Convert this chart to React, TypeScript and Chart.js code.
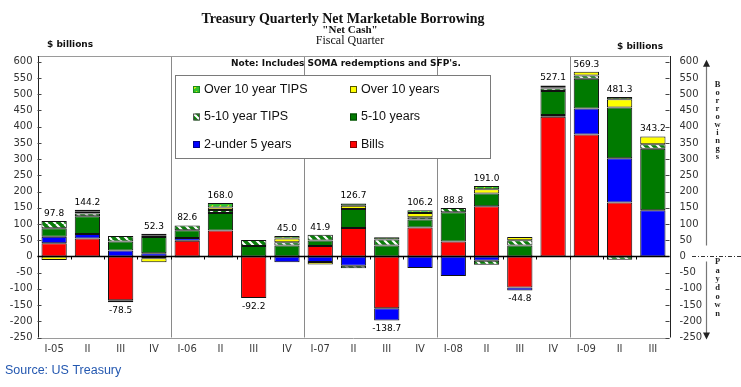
import React, { useEffect, useRef } from 'react';
import { Chart, registerables } from 'chart.js';

Chart.register(...registerables);

const categories = ['I-05', 'II', 'III', 'IV', 'I-06', 'II', 'III', 'IV', 'I-07', 'II', 'III', 'IV', 'I-08', 'II', 'III', 'IV', 'I-09', 'II', 'III'];

const bills = [41, 55, -135, -6, 48, 80, -128, null, 32, 88, -160, 89, 46, 155, -96, 431, 376, 166, null];
const twoToFive = [20, 14, 18, 10, 9, -3, null, -18, -17, -28.5, -37.7, -35.8, -60.2, -13, -8.8, 5, 80, 137, 142];
const fiveToTen = [26, 55, 28, 50, 24, 54, 32, 34, 17, 58, 34, 25, 90, 39, 34, 74, 92, 156, 190];
const tips5to10 = [22, 8, 17, 5, 14, 9, 19, 10, 18, -7.8, 18, 7, 13, -13, 16, 8, 10, -10, 14];
const over10 = [-11.2, 6, -6.5, -11.7, -3, 8, null, 11, -8.1, 10, null, 13, null, 13, 10, 4, 11.3, 26, 24];
const tipsOver10 = [null, 6.2, null, 5, null, 14, null, 8, null, 7, 7, 8, null, 10, null, 5.1, null, 6.3, null];

const totals = [97.8, 144.2, -78.5, 52.3, 82.6, 168.0, -92.2, 45.0, 41.9, 126.7, -138.7, 106.2, 88.8, 191.0, -44.8, 527.1, 569.3, 481.3, 343.2];

const yMin = -250;
const yTop = 600;
const yMax = 618;
const yStep = 50;
const fiscalYearStarts = [4, 8, 12, 16];

const titleText = 'Treasury Quarterly Net Marketable Borrowing';
const subTitle1 = '"Net Cash"';
const subTitle2 = 'Fiscal Quarter';
const noteText = "Note: Includes SOMA redemptions and SFP's.";
const unitText = '$ billions';
const sourceText = 'Source: US Treasury';

function makeHatch(): CanvasPattern | string {
  const c = document.createElement('canvas');
  c.width = 8; c.height = 8;
  const g = c.getContext('2d');
  if (!g) return '#008000';
  g.fillStyle = '#0a7d0a';
  g.fillRect(0, 0, 8, 8);
  g.strokeStyle = '#ffffff';
  g.lineWidth = 2.2;
  g.beginPath();
  for (let k = -8; k <= 16; k += 8) {
    g.moveTo(k, 0);
    g.lineTo(k + 8, 8);
  }
  g.stroke();
  return g.createPattern(c, 'repeat') || '#008000';
}

function makeTipsPattern(): CanvasPattern | string {
  const c = document.createElement('canvas');
  c.width = 8; c.height = 6;
  const g = c.getContext('2d');
  if (!g) return '#33cc33';
  g.fillStyle = '#2fc12f';
  g.fillRect(0, 0, 8, 6);
  g.strokeStyle = '#f2f200';
  g.lineWidth = 1.6;
  g.beginPath();
  g.moveTo(2, 4.5);
  g.lineTo(5, 1.5);
  g.stroke();
  return g.createPattern(c, 'repeat') || '#33cc33';
}

export default function App() {
  const ref = useRef<HTMLCanvasElement>(null);

  useEffect(() => {
    document.body.style.margin = '0';
    document.body.style.background = '#ffffff';
    const canvas = ref.current;
    if (!canvas) return;
    const hatch = makeHatch();
    const tipsPat = makeTipsPattern();

    const series = [
      { label: 'Bills', data: bills, color: '#ff0000' as any },
      { label: '2-under 5 years', data: twoToFive, color: '#0000ff' as any },
      { label: '5-10 years', data: fiveToTen, color: '#007a00' as any },
      { label: '5-10 year TIPS', data: tips5to10, color: hatch as any },
      { label: 'Over 10 years', data: over10, color: '#ffff00' as any },
      { label: 'Over 10 year TIPS', data: tipsOver10, color: tipsPat as any },
    ];

    const legendItems = [
      ['Over 10 year TIPS', tipsPat, '#1a8a1a'],
      ['Over 10 years', '#ffff00', '#555500'],
      ['5-10 year TIPS', hatch, '#555555'],
      ['5-10 years', '#007a00', '#004400'],
      ['2-under 5 years', '#0000ff', '#000088'],
      ['Bills', '#ff0000', '#880000'],
    ] as any[];

    const buildTicks = (s: any) => {
      const t: any[] = [];
      for (let v = yMin; v <= yTop; v += yStep) t.push({ value: v });
      s.ticks = t;
    };

    const decor = {
      id: 'decor',
      beforeDatasetsDraw(chart: any) {
        const { ctx, chartArea: a, scales } = chart;
        const x = scales.x;
        ctx.save();
        ctx.strokeStyle = '#8a8a8a';
        ctx.lineWidth = 1;
        fiscalYearStarts.forEach((i) => {
          const px = Math.round((x.getPixelForValue(i - 1) + x.getPixelForValue(i)) / 2) + 0.5;
          ctx.beginPath();
          ctx.moveTo(px, a.top);
          ctx.lineTo(px, a.bottom);
          ctx.stroke();
        });
        ctx.restore();
      },
      afterDraw(chart: any) {
        const { ctx, chartArea: a, scales } = chart;
        const x = scales.x;
        const y = scales.y;
        ctx.save();

        // frame
        ctx.lineWidth = 1;
        ctx.strokeStyle = '#9a9a9a';
        ctx.beginPath();
        ctx.moveTo(a.left, Math.round(a.top) + 0.5);
        ctx.lineTo(a.right, Math.round(a.top) + 0.5);
        ctx.moveTo(a.left, Math.round(a.bottom) + 0.5);
        ctx.lineTo(a.right, Math.round(a.bottom) + 0.5);
        ctx.stroke();
        ctx.strokeStyle = '#222222';
        ctx.beginPath();
        ctx.moveTo(Math.round(a.left) + 0.5, a.top);
        ctx.lineTo(Math.round(a.left) + 0.5, a.bottom);
        ctx.moveTo(Math.round(a.right) + 0.5, a.top);
        ctx.lineTo(Math.round(a.right) + 0.5, a.bottom);
        ctx.stroke();
        // inward ticks
        ctx.strokeStyle = '#444444';
        ctx.beginPath();
        for (let v = yMin; v <= yTop; v += yStep) {
          const py = Math.round(y.getPixelForValue(v)) + 0.5;
          ctx.moveTo(a.left, py);
          ctx.lineTo(a.left + 4, py);
          ctx.moveTo(a.right, py);
          ctx.lineTo(a.right - 4, py);
        }
        ctx.stroke();

        // zero line
        const zy = Math.round(y.getPixelForValue(0)) + 0.5;
        ctx.strokeStyle = '#000000';
        ctx.lineWidth = 1.4;
        ctx.beginPath();
        ctx.moveTo(a.left, zy);
        ctx.lineTo(a.right, zy);
        ctx.stroke();
        ctx.lineWidth = 1;
        ctx.beginPath();
        for (let i = 1; i < categories.length; i++) {
          const px = Math.round((x.getPixelForValue(i - 1) + x.getPixelForValue(i)) / 2) + 0.5;
          ctx.moveTo(px, zy);
          ctx.lineTo(px, zy + 3);
        }
        ctx.stroke();

        // value labels
        ctx.fillStyle = '#000000';
        ctx.font = '9px "DejaVu Sans"';
        ctx.textAlign = 'center';
        totals.forEach((t, i) => {
          let pos = 0, neg = 0;
          series.forEach((s) => {
            const v = s.data[i];
            if (v == null) return;
            if (v > 0) pos += v; else neg += v;
          });
          const px = x.getPixelForValue(i);
          if (t >= 0) {
            ctx.textBaseline = 'bottom';
            ctx.fillText(t.toFixed(1), px, y.getPixelForValue(pos) - 3);
          } else {
            ctx.textBaseline = 'top';
            ctx.fillText(t.toFixed(1), px, y.getPixelForValue(neg) + 4);
          }
        });

        // note
        ctx.font = 'bold 9px "DejaVu Sans"';
        ctx.fillStyle = '#111111';
        ctx.textAlign = 'left';
        ctx.textBaseline = 'middle';
        ctx.fillText(noteText, 231, 64);

        // legend box
        const bx = 175.5, by = 75.5, bw = 315, bh = 83;
        ctx.fillStyle = '#ffffff';
        ctx.fillRect(bx, by, bw, bh);
        ctx.strokeStyle = '#7a7a7a';
        ctx.lineWidth = 1;
        ctx.strokeRect(bx, by, bw, bh);
        const rows = [89, 116.5, 144];
        const colMarker = [193, 350];
        const colText = [204, 361];
        ctx.font = '12.5px "Liberation Sans"';
        ctx.textBaseline = 'middle';
        legendItems.forEach((it, k) => {
          const r = Math.floor(k / 2), c = k % 2;
          const my = rows[r];
          ctx.fillStyle = it[1];
          ctx.fillRect(colMarker[c], my - 3, 7, 7);
          ctx.strokeStyle = it[2];
          ctx.strokeRect(colMarker[c] + 0.5, my - 2.5, 6, 6);
          ctx.fillStyle = '#111111';
          ctx.fillText(it[0], colText[c], my + 0.5);
        });

        // titles
        ctx.textAlign = 'center';
        ctx.fillStyle = '#111111';
        ctx.font = 'bold 14px "Liberation Serif"';
        ctx.fillText(titleText, 343, 19);
        ctx.font = 'bold 11px "Liberation Serif"';
        ctx.fillText(subTitle1, 350, 30);
        ctx.font = '12px "Liberation Serif"';
        ctx.fillText(subTitle2, 350, 41);
        ctx.font = 'bold 9px "DejaVu Sans"';
        ctx.textAlign = 'left';
        ctx.fillText(unitText, 47, 45);
        ctx.fillText(unitText, 617, 47);

        // right side arrow
        const ax = 706.5;
        const yTopPx = y.getPixelForValue(yTop);
        const yBotPx = y.getPixelForValue(yMin);
        ctx.strokeStyle = '#777777';
        ctx.lineWidth = 1.2;
        ctx.beginPath();
        ctx.moveTo(ax, yTopPx + 4);
        ctx.lineTo(ax, zy - 11);
        ctx.moveTo(ax, zy + 5);
        ctx.lineTo(ax, yBotPx - 4);
        ctx.stroke();
        ctx.fillStyle = '#222222';
        ctx.beginPath();
        ctx.moveTo(ax, yTopPx - 2);
        ctx.lineTo(ax - 3.5, yTopPx + 5);
        ctx.lineTo(ax + 3.5, yTopPx + 5);
        ctx.closePath();
        ctx.fill();
        ctx.beginPath();
        ctx.moveTo(ax, yBotPx + 2);
        ctx.lineTo(ax - 3.5, yBotPx - 5);
        ctx.lineTo(ax + 3.5, yBotPx - 5);
        ctx.closePath();
        ctx.fill();
        // dashed zero extension
        ctx.strokeStyle = '#333333';
        ctx.lineWidth = 1;
        ctx.setLineDash([4, 2, 1, 2]);
        ctx.beginPath();
        ctx.moveTo(692, zy);
        ctx.lineTo(741, zy);
        ctx.stroke();
        ctx.setLineDash([]);
        // stacked words
        ctx.font = 'bold 8.5px "Liberation Serif"';
        ctx.textAlign = 'center';
        ctx.textBaseline = 'middle';
        ctx.fillStyle = '#222222';
        'Borrowings'.split('').forEach((ch, k) => ctx.fillText(ch, 717.5, 85 + k * 8));
        'Paydown'.split('').forEach((ch, k) => ctx.fillText(ch, 717.5, 262 + k * 8.6));

        // source
        ctx.font = '12.5px "Liberation Sans"';
        ctx.textAlign = 'left';
        ctx.fillStyle = '#2458b0';
        ctx.fillText(sourceText, 5, 371);
        ctx.restore();
      },
    };

    const tickFont = { family: '"DejaVu Sans"', size: 10 };

    const chart = new Chart(canvas, {
      type: 'bar',
      data: {
        labels: categories,
        datasets: series.map((s) => ({
          label: s.label,
          data: s.data as any,
          backgroundColor: s.color,
          borderColor: '#111111',
          borderWidth: 1,
          borderSkipped: false,
          barPercentage: 0.76,
          categoryPercentage: 1,
          yAxisID: 'y',
        })),
      },
      options: {
        responsive: false,
        animation: false,
        devicePixelRatio: 1,
        layout: { padding: { top: 56, left: 0, right: 0, bottom: 0 } },
        plugins: { legend: { display: false }, tooltip: { enabled: false }, title: { display: false } },
        scales: {
          x: {
            stacked: true,
            offset: true,
            grid: { display: false, drawTicks: false },
            border: { display: false },
            ticks: { font: tickFont, color: '#3a3a3a', padding: 6, autoSkip: false, maxRotation: 0 },
            afterFit: (s: any) => { s.height = 49.5; },
          },
          y: {
            stacked: true,
            position: 'left',
            min: yMin,
            max: yMax,
            grid: { display: false, drawTicks: false },
            border: { display: false },
            ticks: { stepSize: yStep, font: tickFont, color: '#333333', padding: 5, includeBounds: false },
            afterBuildTicks: buildTicks,
            afterFit: (s: any) => { s.width = 37.5; },
          },
          y2: {
            position: 'right',
            min: yMin,
            max: yMax,
            grid: { display: false, drawTicks: false },
            border: { display: false },
            ticks: { stepSize: yStep, font: tickFont, color: '#333333', padding: 10, includeBounds: false },
            afterBuildTicks: buildTicks,
            afterFit: (s: any) => { s.width = 71.5; },
          },
        },
      } as any,
      plugins: [decor],
    });

    return () => chart.destroy();
  }, []);

  return <canvas ref={ref} width={741} height={387} style={{ display: 'block', width: '741px', height: '387px' }} />;
}
